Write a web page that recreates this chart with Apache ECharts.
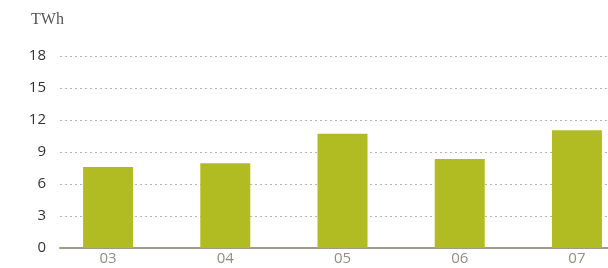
<!DOCTYPE html>
<html><head><meta charset="utf-8">
<script src="https://cdn.jsdelivr.net/npm/echarts@6/dist/echarts.min.js"></script>
<style>html,body{margin:0;padding:0;background:#fff}#c{width:608px;height:268px}</style>
</head><body><div id="c"></div>
<script>
const categories = ['03', '04', '05', '06', '07'];
const values = [7.6, 7.95, 10.7, 8.35, 11.05];
const yTicks = [0, 3, 6, 9, 12, 15, 18];
const unit = 'TWh';

const chart = echarts.init(document.getElementById('c'), null, {renderer: 'canvas'});
chart.setOption({
  animation: false,
  title: {text: unit, left: 26, top: 7, textStyle: {fontFamily: 'Liberation Serif', fontSize: 16, fontWeight: 'normal', color: '#555'}},
  grid: {left: 60, right: 0, top: 56, bottom: 20, containLabel: false},
  xAxis: {
    type: 'value', min: -0.41, max: 4.265,
    splitLine: {show: false},
    axisTick: {show: false},
    axisLine: {show: true, onZero: false, lineStyle: {color: '#a29a88', width: 2}},
    axisLabel: {
      customValues: categories.map((c, i) => i),
      formatter: v => categories[Math.round(v)],
      color: '#948d80', fontFamily: 'Open Sans', fontSize: 15, margin: 3
    }
  },
  yAxis: {
    type: 'value', min: 0, max: 18, interval: 3,
    axisLine: {show: false}, axisTick: {show: false},
    splitLine: {lineStyle: {color: '#b5b5b5', type: [2, 3], width: 1}},
    axisLabel: {customValues: yTicks, color: '#333', fontFamily: 'Open Sans', fontSize: 15, margin: 14}
  },
  series: [{
    type: 'bar', barWidth: 50,
    data: values.map((v, i) => [i, v]),
    itemStyle: {color: '#b1bc23'}
  }]
});
</script></body></html>
